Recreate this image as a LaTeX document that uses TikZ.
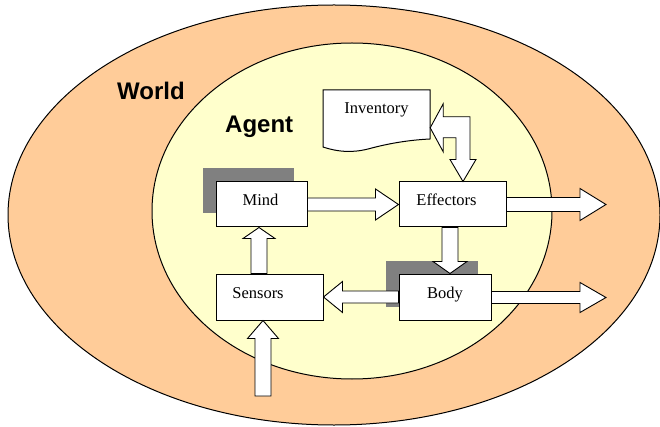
\documentclass[tikz,border=0pt]{standalone}
\usepackage{fontspec}
\setmainfont{Liberation Serif}
\newfontfamily\lsans{Liberation Sans}
\usetikzlibrary{calc,shadows}
\definecolor{worldc}{HTML}{FFCC99}
\definecolor{agentc}{HTML}{FFFFCC}
\definecolor{shadowc}{HTML}{808080}
% horizontal block arrow: from, to, shaft half, head half, head length (signed)
\newcommand\harr[5]{\draw[blk] let \p1=(#1),\p2=(#2) in
  ({\x1},{\y1+#3pt}) -- ({\x2-(#5pt)},{\y1+#3pt}) -- ({\x2-(#5pt)},{\y1+#4pt}) -- ({\x2},{\y1})
  -- ({\x2-(#5pt)},{\y1-#4pt}) -- ({\x2-(#5pt)},{\y1-#3pt}) -- ({\x1},{\y1-#3pt}) -- cycle;}
% vertical block arrow: from, to, shaft half, head half, head length (signed, canvas)
\newcommand\varr[5]{\draw[blk] let \p1=(#1),\p2=(#2) in
  ({\x1+#3pt},{\y1}) -- ({\x1+#3pt},{\y2-(#5pt)}) -- ({\x1+#4pt},{\y2-(#5pt)}) -- ({\x1},{\y2})
  -- ({\x1-#4pt},{\y2-(#5pt)}) -- ({\x1-#3pt},{\y2-(#5pt)}) -- ({\x1-#3pt},{\y1}) -- cycle;}
\newcommand\tsh[2]{\hspace*{#1pt}#2\hspace*{-#1pt}}
\begin{document}
\begin{tikzpicture}[x=1pt,y=-1pt,
  blk/.style={draw=black,fill=white,line width=0.9pt,line join=miter},
  boxn/.style={draw=black,fill=white,line width=1pt,rectangle,inner sep=0pt,
    text height=11pt,text depth=8pt,font=\fontsize{16.5}{18}\selectfont},
  shad/.style={general shadow={fill=shadowc,shadow xshift=-13.5pt,shadow yshift=13.5pt}},
  biglabel/.style={font=\lsans\bfseries\fontsize{24}{28}\selectfont,anchor=base west,inner sep=0pt}]
\useasboundingbox (0,0) rectangle (660,427);
% ellipses
\draw[fill=worldc,line width=1pt] (334,215) ellipse [x radius=326pt,y radius=210pt];
\draw[fill=agentc,line width=1pt] (352,211) ellipse [x radius=200pt,y radius=168pt];
\node[biglabel] (world) at (117,100) {World};
\node[biglabel] (agent) at (225,133) {Agent};
% inventory document
\draw[fill=white,line width=1pt] (323,90) -- (430,90) -- (430,139)
  .. controls (410,140) and (390,143) .. (368,149)
  .. controls (352,153) and (338,152) .. (323,147) -- cycle;
\node[inner sep=0pt,minimum width=107pt,minimum height=57pt,text height=11pt,text depth=20pt,
  font=\fontsize{16.5}{18}\selectfont] (inv) at (376.5,118.5) {Inventory};
% boxes
\node[boxn,shad,minimum width=91pt,minimum height=45pt] (mind) at (261.5,204.5) {\tsh{-1}{Mind}};
\node[boxn,minimum width=107pt,minimum height=45pt] (effectors) at (452.5,204.5) {\tsh{-6}{Effectors}};
\node[boxn,minimum width=107pt,minimum height=46pt] (sensors) at (269.5,297) {\tsh{-11.5}{Sensors}};
\node[boxn,shad,minimum width=92pt,minimum height=46pt] (body) at (445,297) {Body};
\coordinate (out1) at (606,204.5);
\coordinate (out2) at (606,297.5);
\coordinate (in1) at (263,396);
% arrows
\harr{mind.east}{effectors.west}{6.5}{15.5}{23}
\harr{effectors.east}{out1}{7}{16}{26}
\harr{$(body.east)+(0,0.5)$}{out2}{6}{15}{26}
\harr{body.west}{sensors.east}{6}{15.5}{-19}
\varr{$(effectors.south)+(-2.5,0)$}{body.north}{8}{17}{-12}
\varr{$(sensors.north)+(-10.5,0)$}{mind.south}{8}{16}{11}
\varr{in1}{sensors.south}{8}{15.5}{18}
% inventory <-> effectors bent double arrow
\draw[blk] let \p1=($(inv.north east)+(0,38)$),\p2=($(effectors.north)+(10.5,0)$) in
  (\x1,\y1) -- (\x1+13pt,\y1+24pt) -- (\x1+13pt,\y1+11pt) -- (\x2+7pt,\y1+11pt)
  -- (\x2+7pt,\y2+22pt) -- (\x2+13pt,\y2+22pt) -- (\x2,\y2) -- (\x2-13pt,\y2+22pt)
  -- (\x2-7pt,\y2+22pt) -- (\x2-7pt,\y1-10pt) -- (\x1+13pt,\y1-10pt)
  -- (\x1+13pt,\y1-24pt) -- cycle;
\end{tikzpicture}
\end{document}
